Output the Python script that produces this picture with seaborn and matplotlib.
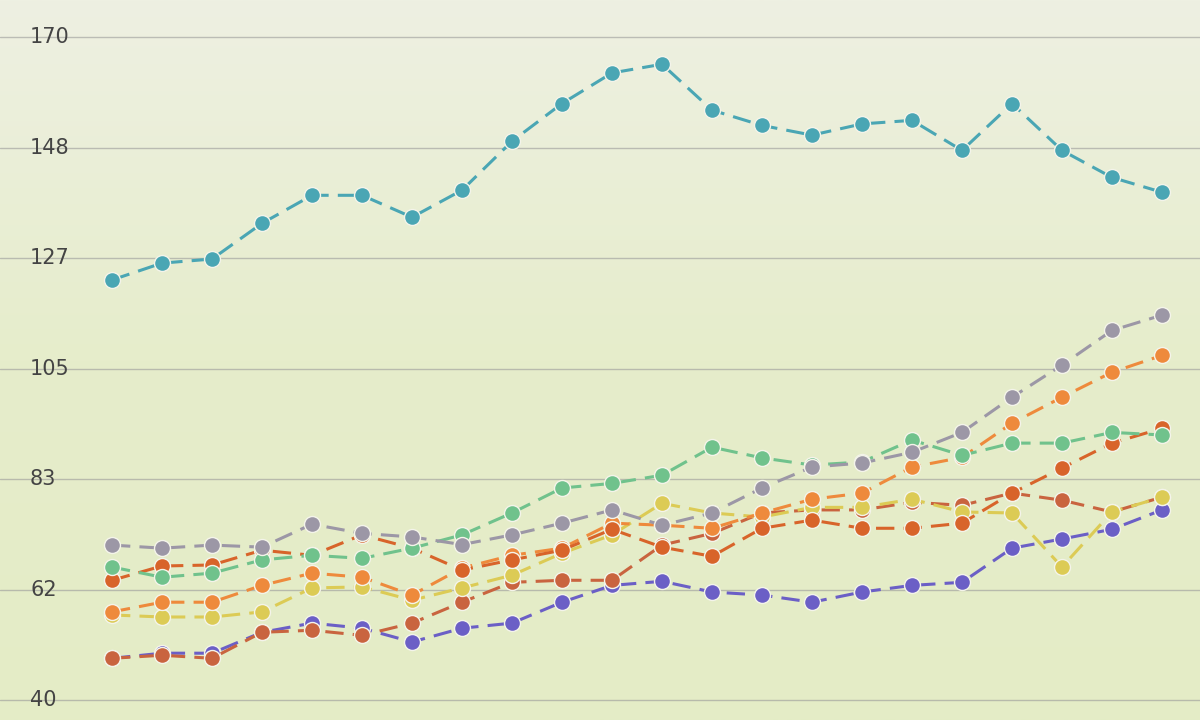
import numpy as np
import pandas as pd
import matplotlib
matplotlib.use("Agg")
import matplotlib.pyplot as plt
import seaborn as sns
from matplotlib.colors import LinearSegmentedColormap

x = list(range(22))
teal = [122.4,125.7,126.5,133.5,139.0,139.0,134.7,140.0,149.6,157.0,163.0,164.7,155.7,152.7,150.8,153.0,153.7,147.8,157.0,147.8,142.5,139.6]
gray = [70.4,69.8,70.4,70.0,74.5,72.7,72.0,70.5,72.4,74.7,77.3,74.3,76.7,81.6,85.7,86.5,88.6,92.5,99.4,105.7,112.5,115.5]
green = [66.1,64.1,64.9,67.5,68.4,67.8,69.8,72.4,76.7,81.6,82.5,84.1,89.6,87.5,86.1,86.7,91.0,88.0,90.4,90.4,92.5,92.0]
orange_dark = [63.5,66.3,66.5,69.4,68.4,72.4,69.8,65.5,67.5,69.4,73.5,70.0,68.2,73.7,75.3,73.7,73.7,74.7,80.6,85.5,90.4,93.3]
orange = [57.3,59.2,59.2,62.5,64.9,64.1,60.6,65.9,68.4,69.8,74.7,74.3,73.7,76.7,79.4,80.6,85.7,87.6,94.3,99.4,104.3,107.6]
redbrown = [48.2,48.8,48.2,53.3,53.7,52.7,55.1,59.2,63.1,63.5,63.5,70.4,72.7,76.7,77.3,77.3,78.8,78.2,80.6,79.2,76.9,79.8]
yellow = [56.7,56.3,56.3,57.3,62.0,62.2,59.6,62.0,64.5,68.8,72.4,78.6,76.7,75.9,77.8,77.8,79.4,76.9,76.7,66.1,76.9,79.8]
purple = [48.2,49.2,49.2,53.3,55.1,54.1,51.4,54.1,55.1,59.2,62.5,63.3,61.2,60.6,59.2,61.2,62.5,63.1,69.8,71.6,73.5,77.3]

series = {"purple": purple, "redbrown": redbrown, "yellow": yellow, "orange": orange,
          "orange_dark": orange_dark, "green": green, "gray": gray, "teal": teal}
colors = {"teal": "#4aa6b4", "gray": "#9c97a6", "green": "#70c28c", "orange_dark": "#d8642a",
          "orange": "#ee8a3c", "redbrown": "#c9643f", "yellow": "#dccb55", "purple": "#6b5fc6"}
ticks = [40, 61.67, 83.33, 105, 126.67, 148.33, 170]
tick_labels = ["40", "62", "83", "105", "127", "148", "170"]

sns.set_theme(style="white")
fig = plt.figure(figsize=(12, 7.2), dpi=100)
ax = fig.add_axes([0, 0, 1, 1])
grad = np.linspace(0, 1, 256).reshape(-1, 1)
cm = LinearSegmentedColormap.from_list("bg", ["#e4ecc6", "#e6edcb", "#eef0e2"])
ax.imshow(grad, aspect="auto", cmap=cm, extent=[-2.24, 21.76, 36.1, 177.3], origin="lower", zorder=0)

for name, vals in series.items():
    df = pd.DataFrame({"x": x, "y": vals})
    sns.lineplot(data=df, x="x", y="y", ax=ax, color=colors[name], linestyle="--", linewidth=2.2,
                 marker="o", markersize=11.5, markeredgecolor="#f4f4ea", markeredgewidth=1.0,
                 zorder=3)
for ln in ax.lines:
    ln.set_dashes([6, 3])

ax.set_xlim(-2.24, 21.76)
ax.set_ylim(36.1, 177.3)
ax.set_yticks(ticks)
ax.set_yticklabels([])
for t, lab in zip(ticks, tick_labels):
    ax.axhline(t, color="#9a9a9a", linewidth=1, alpha=0.6, zorder=1)
    ax.text(-1.64, t, lab, fontsize=15, color="#444444", va="center", ha="left", zorder=4)
ax.set_xticks([])
ax.set_xlabel("")
ax.set_ylabel("")
for s in ax.spines.values():
    s.set_visible(False)
fig.savefig("out.png", dpi=100)
